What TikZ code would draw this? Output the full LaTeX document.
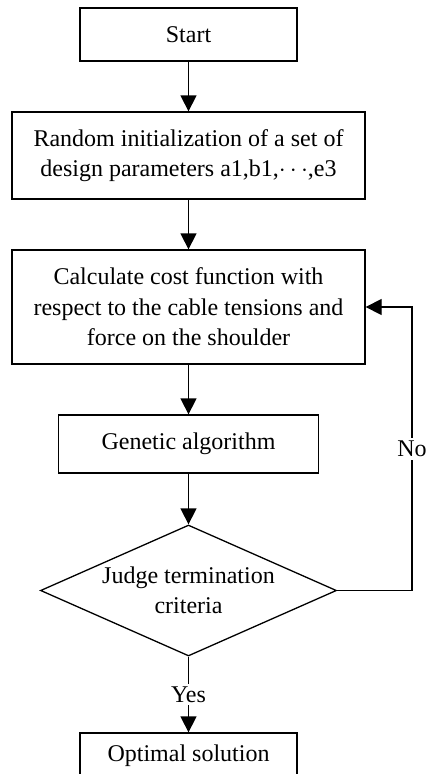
\documentclass[tikz,border=0pt]{standalone}
\usepackage{fontspec}
\setmainfont{Liberation Serif}
\usetikzlibrary{arrows.meta,shapes.geometric}

\begin{document}
\begin{tikzpicture}[x=1pt, y=-1pt, line width=1.3pt,
  box/.style={rectangle, draw, align=center, inner sep=0pt,
    font=\fontsize{24}{30.5}\selectfont},
  judge/.style={diamond, draw, align=center, inner sep=-14pt,
    aspect=2.26, minimum width=296pt, minimum height=131pt,
    font=\fontsize{24}{30.5}\selectfont},
  lab/.style={fill=white, inner sep=3pt, font=\fontsize{24}{28}\selectfont},
  flow/.style={-{Triangle[length=16pt, width=16pt]}}]
\useasboundingbox (0,0) rectangle (428,774);
\clip (0,0) rectangle (428,774);
% ---------------- boxes ----------------
\node[box, minimum width=217pt, minimum height=53pt] (start) at (188.5,34.5)
  {Start};
\node[box, minimum width=353pt, minimum height=87pt] (init) at (188.5,155.5)
  {Random initialization of a set of\\ design parameters a1,b1,$\cdots$,e3};
\node[box, minimum width=353pt, minimum height=114pt] (cost) at (188.5,307)
  {Calculate cost function with\\ respect to the cable tensions and\\
   force on the shoulder};
\node[box, minimum width=260pt, minimum height=58pt] (ga) at (188.5,444)
  {Genetic algorithm};
\node[judge] (crit) at (188.5,590.5)
  {Judge termination\\ criteria};
\node[box, minimum width=217pt, minimum height=46pt] (opt) at (188.5,756)
  {Optimal solution};
% ---------------- connectors ----------------
\coordinate (loopx) at (412,0);
\draw[flow] (start) -- (init);
\draw[flow] (init) -- (cost);
\draw[flow] (cost) -- (ga);
\draw[flow] (ga) -- (crit);
\draw[flow] (crit) -- node[lab] (yes) {Yes} (opt);
\draw[flow] (crit.east) -- (crit.east -| loopx)
  -- node[lab] (no) {No} (cost.east -| loopx) -- (cost.east);
\end{tikzpicture}
\end{document}
